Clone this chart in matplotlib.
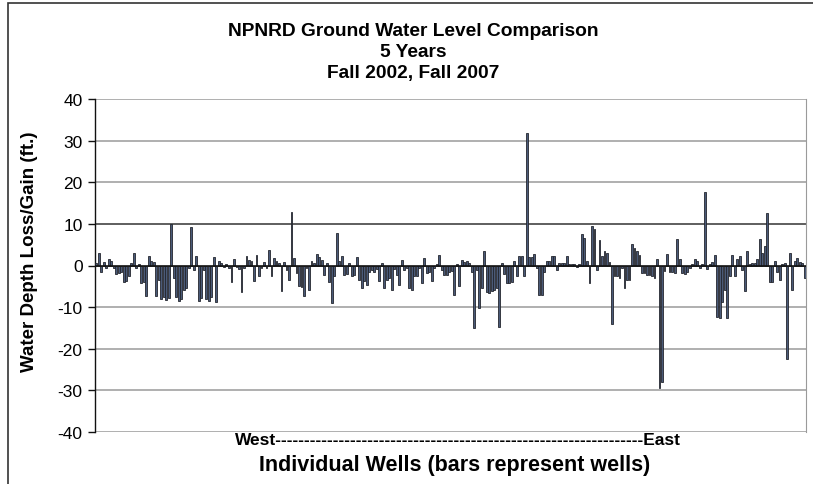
import matplotlib
matplotlib.use("Agg")
import matplotlib.pyplot as plt
from matplotlib.patches import Rectangle
import numpy as np

# Change in water depth (ft.) per well, ordered West -> East
well_change = [
    0.5, 3.0, -1.5, 0.8, -0.5, 1.5, 1.2, -0.7, -2.0, -1.8,
    -1.5, -4.0, -3.8, -2.5, 0.5, 3.0, -0.5, 0.3, -4.3, -4.0,
    -7.3, 2.2, 1.2, 0.8, -7.3, -3.5, -8.0, -7.5, -8.2, -7.8,
    10.0, -3.0, -7.5, -8.5, -8.0, -6.0, -5.5, -0.5, 9.2, -1.0,
    2.2, -8.5, -7.8, -1.0, -8.0, -8.5, -7.5, 2.0, -8.8, 1.2,
    0.5, -0.3, 0.4, -0.5, -4.0, 1.5, -0.4, -0.8, -6.4, -0.5,
    2.4, 1.4, 1.2, -3.8, 2.6, -2.5, -0.5, 0.8, -0.6, 3.7,
    -2.5, 1.8, 1.0, 0.6, -6.2, 0.8, -1.0, -3.4, 12.9, 1.8,
    -1.8, -5.0, -5.2, -7.4, -0.5, -5.8, 1.0, 0.5, 2.8, 2.0,
    1.4, -2.2, 0.6, -4.0, -9.1, -2.5, 7.7, 1.0, 2.2, -2.2,
    -2.0, 0.5, -2.5, -2.3, 2.0, -3.4, -5.4, -3.8, -4.6, -1.5,
    -1.2, -1.6, -0.8, -3.8, 0.6, -5.4, -3.4, -3.0, -6.0, -0.8,
    -2.2, -4.8, 1.4, -1.0, -0.5, -5.5, -6.0, -2.5, -2.5, -0.6,
    -4.3, 1.7, -1.8, -1.5, -3.8, -0.5, 0.3, 2.6, -1.2, -2.2,
    -2.2, -1.5, -1.4, -7.0, 0.3, -5.0, 1.4, 0.8, 1.0, 0.5,
    -1.5, -15.0, -1.0, -10.2, -5.5, 3.4, -6.3, -6.5, -6.2, -6.0,
    -5.5, -14.8, 0.5, -2.0, -4.3, -4.3, -4.0, 1.2, -2.5, 2.2,
    2.2, -2.6, 31.8, 2.0, 2.0, 2.7, -0.5, -7.0, -7.2, -1.5,
    1.0, 1.0, 2.3, 2.2, -1.2, 0.5, 0.7, 0.7, 2.2, 0.3,
    0.4, 0.3, -0.3, 0.4, 7.5, 6.6, 1.0, -4.3, 9.6, 8.8,
    -1.0, 6.2, 2.4, 3.4, 3.0, 0.8, -14.0, -2.6, -2.6, -3.0,
    -0.5, -5.4, -3.4, -3.4, 5.1, 4.2, 3.4, 2.6, -1.8, -1.8,
    -2.2, -2.2, -2.5, -3.0, 1.5, -29.5, -28.0, -1.4, 2.8, -1.6,
    -1.5, -1.8, 6.3, 1.5, -1.8, -2.0, -1.5, -0.5, 0.3, 1.5,
    1.0, -0.5, 0.3, 17.6, -0.8, 0.3, 0.8, 2.6, -12.3, -12.5,
    -8.7, -6.0, -12.5, -2.5, 2.6, -2.6, 1.5, 2.3, -1.0, -6.2,
    3.5, 0.3, 0.5, 0.7, 1.5, 6.3, 3.0, 4.6, 12.6, -4.0,
    -4.0, 1.2, -1.5, -3.4, 0.3, 0.5, -22.5, 3.0, -6.0, 1.0,
    1.8, 0.8, 0.5, -3.0,
]
y_ticks = [-40, -30, -20, -10, 0, 10, 20, 30, 40]
title_lines = ["NPNRD Ground Water Level Comparison", "5 Years", "Fall 2002, Fall 2007"]
x_direction = "West" + "-" * 64 + "East"
x_title = "Individual Wells (bars represent wells)"
y_title = "Water Depth Loss/Gain (ft.)"

W, H = 813, 485
plt.rcParams['font.family'] = ['Liberation Sans', 'DejaVu Sans']

fig = plt.figure(figsize=(W / 100, H / 100), dpi=100)

# chart-area border
fig.patches.append(Rectangle((8 / W, -0.05), 1.2, 1 - 4 / H + 0.05, transform=fig.transFigure,
                             fill=False, edgecolor='#333333', linewidth=1.2))

ax = fig.add_axes([95 / W, 1 - 433 / H, (806 - 95) / W, (433 - 100) / H])
x = np.arange(len(well_change))
ax.bar(x, well_change, width=0.75, color='#4a5a78', edgecolor='#23262d', linewidth=0.6, zorder=3)

ax.set_xlim(-0.5, len(well_change) - 0.5)
ax.set_ylim(-40, 40)
ax.set_yticks(y_ticks)
ax.set_yticklabels([str(t) for t in y_ticks], fontsize=12.5)
ax.set_xticks([])
for t in y_ticks:
    if t == 0:
        continue
    ax.axhline(t, color='#333333' if t == 10 else '#9a9a9a', linewidth=1.1, zorder=1)
ax.axhline(0, color='#111111', linewidth=1.2, zorder=4)

ax.spines['left'].set_color('#111111')
ax.spines['left'].set_linewidth(1.0)
ax.spines['right'].set_color('#9a9a9a')
ax.spines['top'].set_visible(False)
ax.spines['bottom'].set_visible(False)
ax.tick_params(axis='y', direction='out', length=5, width=1, color='#111111', pad=4)

fig.text(413 / W, 1 - 23 / H, "\n".join(title_lines), ha='center', va='top',
         fontsize=13.8, fontweight='bold', linespacing=1.3)
fig.text(458 / W, 1 - 441 / H, x_direction, ha='center', va='center',
         fontsize=12.5, fontweight='bold')
fig.text(455 / W, 1 - 466 / H, x_title, ha='center', va='center',
         fontsize=15.5, fontweight='bold')
fig.text(30 / W, 1 - 252 / H, y_title, ha='center', va='center', rotation=90,
         fontsize=13.5, fontweight='bold')

fig.savefig("out.png", dpi=100)
